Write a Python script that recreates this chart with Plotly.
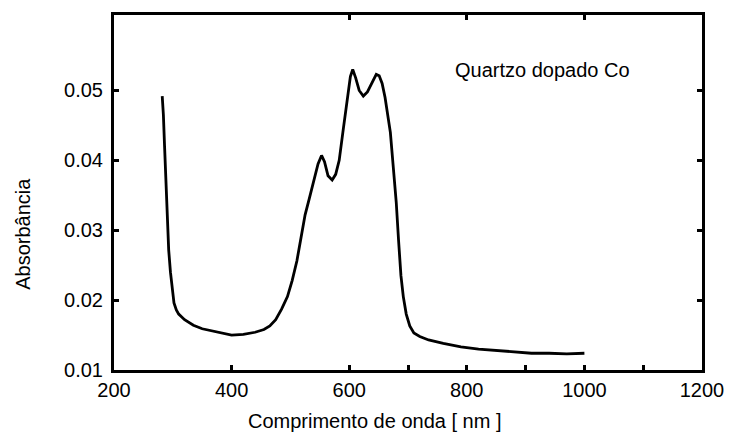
import plotly.graph_objects as go

wavelength = [282, 284, 286, 288, 290, 293, 296, 299, 302, 306, 310, 320, 335, 350, 370, 390, 400,
              420, 440, 455, 465, 475, 485, 495, 503, 511, 518, 525, 532, 540, 547, 553, 558, 564,
              571, 577, 583, 590, 597, 602, 606, 611, 617, 624, 631, 639, 646, 651, 656, 661, 666,
              670, 675, 680, 684, 688, 692, 697, 703, 710, 720, 735, 760, 790, 820, 850, 880, 910,
              940, 970, 1000]
absorbance = [0.0492, 0.0465, 0.0420, 0.0370, 0.0318, 0.0272, 0.0240, 0.0213, 0.0196, 0.0186, 0.0180,
              0.0172, 0.0164, 0.0159, 0.0155, 0.0151, 0.0150, 0.0151, 0.0154, 0.0158, 0.0163, 0.0172,
              0.0187, 0.0205, 0.0228, 0.0256, 0.0292, 0.0322, 0.0345, 0.0372, 0.0395, 0.0407, 0.0398,
              0.0378, 0.0372, 0.0380, 0.0400, 0.0445, 0.0490, 0.0520, 0.0530, 0.0518, 0.0500, 0.0492,
              0.0498, 0.0512, 0.0523, 0.0521, 0.0510, 0.0490, 0.0465, 0.0440, 0.0390, 0.0340, 0.0285,
              0.0235, 0.0205, 0.0180, 0.0163, 0.0153, 0.0148, 0.0143, 0.0138, 0.0133, 0.0130, 0.0128,
              0.0126, 0.0124, 0.0124, 0.0123, 0.0124]

x_ticks = [200, 400, 600, 800, 1000, 1200]
x_minor_ticks = [700, 900, 1100]
x_top_ticks = [600, 800, 1000]
y_ticks = [0.01, 0.02, 0.03, 0.04, 0.05]
y_tick_text = ["0.01", "0.02", "0.03", "0.04", "0.05"]
y_right_ticks = [0.02, 0.03, 0.04, 0.05]

x_title = "Comprimento de onda [ nm ]"
y_title = "Absorbância"
label = "Quartzo dopado Co"

FONT = "Liberation Sans, Arial, sans-serif"

fig = go.Figure()
fig.add_trace(go.Scatter(x=wavelength, y=absorbance, mode="lines",
                         line=dict(color="black", width=2.8), hoverinfo="skip",
                         showlegend=False))
fig.add_trace(go.Scatter(x=wavelength, y=absorbance, mode="lines", xaxis="x2", yaxis="y2",
                         line=dict(color="rgba(0,0,0,0)", width=0), hoverinfo="skip",
                         showlegend=False))

fig.update_layout(
    width=736, height=437,
    margin=dict(l=114, r=24, t=12, b=67),
    paper_bgcolor="white", plot_bgcolor="white",
    font=dict(family=FONT, size=20, color="black"),
    xaxis=dict(range=[200, 1200], tickmode="array", tickvals=x_ticks,
               ticks="inside", ticklen=5, tickwidth=2.5, tickcolor="black",
               showline=True, linewidth=3, linecolor="black", mirror=True,
               showgrid=False, zeroline=False,
               tickfont=dict(family=FONT, size=20, color="black"),
               minor=dict(tickmode="array", tickvals=x_minor_ticks, ticks="inside",
                          ticklen=5, tickwidth=2.5, tickcolor="black", showgrid=False)),
    yaxis=dict(range=[0.01, 0.0608], tickmode="array", tickvals=y_ticks, ticktext=y_tick_text,
               ticks="inside", ticklen=5, tickwidth=2.5, tickcolor="black",
               showline=True, linewidth=3, linecolor="black", mirror=True,
               showgrid=False, zeroline=False, ticklabelstandoff=4,
               tickfont=dict(family=FONT, size=20, color="black")),
    xaxis2=dict(range=[200, 1200], overlaying="x", side="top", tickmode="array",
                tickvals=x_top_ticks, ticks="inside", ticklen=5, tickwidth=2.5,
                tickcolor="black", showticklabels=False, showgrid=False, zeroline=False,
                showline=False),
    yaxis2=dict(range=[0.01, 0.0608], overlaying="y", side="right", tickmode="array",
                tickvals=y_right_ticks, ticks="inside", ticklen=5, tickwidth=2.5,
                tickcolor="black", showticklabels=False, showgrid=False, zeroline=False,
                showline=False),
    annotations=[
        dict(text=x_title, xref="paper", yref="paper", x=0.443, y=-0.145,
             xanchor="center", yanchor="middle", showarrow=False,
             font=dict(family=FONT, size=20, color="black")),
        dict(text=y_title, xref="paper", yref="paper", x=-0.154, y=0.385,
             xanchor="center", yanchor="middle", textangle=-90, showarrow=False,
             font=dict(family=FONT, size=20, color="black")),
        dict(text=label, xref="x", yref="y", x=777, y=0.0530,
             xanchor="left", yanchor="middle", showarrow=False,
             font=dict(family=FONT, size=20, color="black")),
    ],
)

fig.write_html("out.html")
